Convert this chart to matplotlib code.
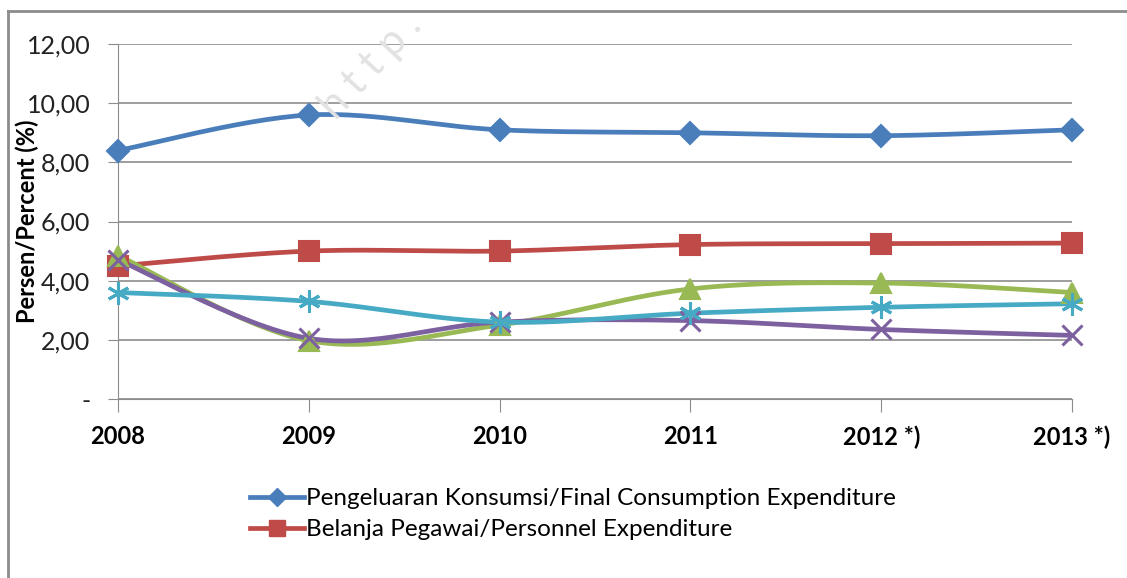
import numpy as np
import matplotlib
matplotlib.use("Agg")
import matplotlib.pyplot as plt
from matplotlib.lines import Line2D

# Data
tahun = ["2008", "2009", "2010", "2011", "2012 *)", "2013 *)"]
konsumsi = [8.40, 9.60, 9.10, 9.00, 8.90, 9.10]
pegawai = [4.50, 5.00, 5.00, 5.22, 5.25, 5.27]
seri_hijau = [4.85, 1.97, 2.50, 3.72, 3.92, 3.60]
seri_ungu = [4.70, 2.05, 2.60, 2.65, 2.35, 2.15]
seri_biru_muda = [3.60, 3.30, 2.60, 2.90, 3.10, 3.22]
label_legenda = ["Pengeluaran Konsumsi/Final Consumption Expenditure",
                 "Belanja Pegawai/Personnel Expenditure"]
yticks = [0, 2, 4, 6, 8, 10, 12]


def smooth(xs, ys, n=30):
    # Excel-like smoothed line (Bezier with Catmull-Rom control points)
    xs = np.asarray(xs, float)
    ys = np.asarray(ys, float)
    px, py = [], []
    for i in range(len(xs) - 1):
        x0, y0 = (xs[i - 1], ys[i - 1]) if i > 0 else (xs[i], ys[i])
        x3, y3 = (xs[i + 2], ys[i + 2]) if i + 2 < len(xs) else (xs[i + 1], ys[i + 1])
        x1, y1 = xs[i], ys[i]
        x2, y2 = xs[i + 1], ys[i + 1]
        c1x, c1y = x1 + (x2 - x0) / 6, y1 + (y2 - y0) / 6
        c2x, c2y = x2 - (x3 - x1) / 6, y2 - (y3 - y1) / 6
        t = np.linspace(0, 1, n)
        bx = (1 - t) ** 3 * x1 + 3 * (1 - t) ** 2 * t * c1x + 3 * (1 - t) * t ** 2 * c2x + t ** 3 * x2
        by = (1 - t) ** 3 * y1 + 3 * (1 - t) ** 2 * t * c1y + 3 * (1 - t) * t ** 2 * c2y + t ** 3 * y2
        px.extend(bx)
        py.extend(by)
    return px, py


plt.rcParams['font.family'] = ['Lato', 'DejaVu Sans']

fig = plt.figure(figsize=(11.27, 5.78), dpi=100)
ax = fig.add_axes([118 / 1127, 1 - 399 / 578, (1072 - 118) / 1127, (399 - 44) / 578])

# watermark
fig.text(0.329, 0.886, "h t t p .", fontsize=30, color="#e2e2e2", rotation=47,
         ha="center", va="center", zorder=0)

# chart border (left and top)
fig.add_artist(Line2D([8 / 1127, 8 / 1127], [0, 1 - 11 / 578], color="#8c8c8c", lw=2))
fig.add_artist(Line2D([8 / 1127, 1], [1 - 11 / 578, 1 - 11 / 578], color="#8c8c8c", lw=2))

x = np.arange(len(tahun))
series = [
    (konsumsi, "#4A7EBB", "D", 11, 1.5),
    (pegawai, "#BE4B48", "s", 14, 1.5),
    (seri_hijau, "#98B954", "^", 15, 1.5),
    (seri_ungu, "#7D60A0", "x", 14, 2.2),
    (seri_biru_muda, "#46AAC5", (6, 2, 0), 16, 2.2),
]
for vals, col, mk, ms, mew in series:
    sx, sy = smooth(x, vals)
    ax.plot(sx, sy, color=col, lw=3.4, solid_capstyle="round", clip_on=False, zorder=3)
    ax.plot(x, vals, ls="none", marker=mk, ms=ms, color=col, mec=col, mew=mew,
            clip_on=False, zorder=4)

ax.set_xlim(0, len(tahun) - 1)
ax.set_ylim(0, 12)
ax.set_yticks(yticks)
ax.set_yticklabels(["-" if v == 0 else f"{v:.2f}".replace(".", ",") for v in yticks],
                   fontsize=18, color="#222222")
ax.set_xticks(x)
ax.set_xticklabels(tahun, fontsize=17, fontweight="bold")
ax.grid(axis="y", color="#8c8c8c", lw=1.2)
ax.set_axisbelow(True)
for s in ["top", "right"]:
    ax.spines[s].set_visible(False)
ax.spines["left"].set_color("#8c8c8c")
ax.spines["bottom"].set_color("#8c8c8c")
ax.tick_params(axis="y", length=7, color="#8c8c8c", pad=13)
ax.tick_params(axis="x", length=9, color="#8c8c8c", pad=10)
ax.set_ylabel("Persen/Percent (%)", fontsize=17, fontweight="bold")
ax.yaxis.set_label_coords(-79 / 954, 0.5)

handles = [Line2D([], [], color="#4A7EBB", lw=3.4, marker="D", ms=9),
           Line2D([], [], color="#BE4B48", lw=3.4, marker="s", ms=12)]
fig.legend(handles, label_legenda, loc="upper left", bbox_to_anchor=(238 / 1127, 1 - 476 / 578),
           frameon=False, fontsize=17.5, handlelength=2.2, handletextpad=0.1,
           labelspacing=0.42, borderpad=0)

fig.savefig("out.png", dpi=100)
